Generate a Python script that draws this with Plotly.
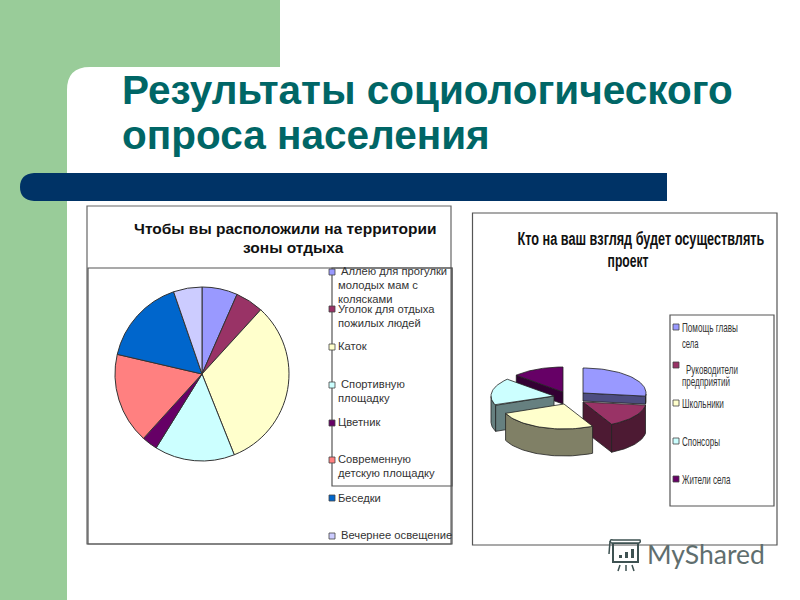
import math
import json
import plotly.graph_objects as go

left_labels = ["Аллею для прогулки молодых мам с колясками", "Уголок для отдыха пожилых людей", "Каток",
               "Спортивную площадку", "Цветник", "Современную детскую площадку", "Беседки", "Вечернее освещение"]
left_values = [6.6, 5.2, 32.2, 14.9, 2.9, 16.9, 16.1, 5.3]
left_colors = ["#9999FF", "#993366", "#FFFFCC", "#CCFFFF", "#660066", "#FF8080", "#0066CC", "#CCCCFF"]

right_labels = ["Помощь главы села", "Руководители предприятий", "Школьники", "Спонсоры", "Жители села"]
right_values = [27.0, 15.5, 26.4, 17.8, 13.3]
right_colors = ["#9999FF", "#993366", "#FFFFCC", "#CCFFFF", "#660066"]
right_side_colors = ["#4D4D80", "#4D1A33", "#808066", "#668080", "#330033"]
right_heights = [8, 28, 27, 26, 12]
right_apex = [(583, 393), (583, 402), (564, 404), (554, 396), (563, 392)]

RX, RY = 63, 25
fig = go.Figure()


def X(v): return v / 800
def Y(v): return 1 - v / 600


shapes = []
def rect(x0, y0, x1, y1, fill=None, line=None, w=1):
    shapes.append(dict(type="rect", xref="x", yref="y", x0=x0, y0=y0, x1=x1, y1=y1,
                       fillcolor=fill or "rgba(0,0,0,0)", line=dict(color=line or "rgba(0,0,0,0)", width=w if line else 0), layer="below"))
def path(d, fill=None, line=None, w=1, layer="below"):
    shapes.append(dict(type="path", xref="x", yref="y", path=d, fillcolor=fill or "rgba(0,0,0,0)",
                       line=dict(color=line or "rgba(0,0,0,0)", width=w if line else 0), layer=layer))

GREEN = "#99CC99"
rect(0, 0, 280, 67, GREEN)
rect(0, 0, 67, 600, GREEN)
path("M67,67 L90,67 Q67,67 67,90 Z", GREEN)
path("M34,173 L667,173 L667,201 L55,201 L34,201 Q20,200 20,187 Q20,174 34,173 Z", "#003366")

rect(87, 206, 451, 544, "#FFFFFF", "#666666", 1.2)
rect(88, 268, 452, 544, None, "#555555", 1.2)
rect(332, 268, 452, 486, None, "#555555", 1.2)
rect(472.5, 213, 777, 545, "#FFFFFF", "#555555", 1.2)
rect(670, 315, 774, 506, None, "#555555", 1.2)


def text(x, y, s, size, color="#222222", family="Liberation Sans", bold=False, anchor="left"):
    fig.add_annotation(xref="x", yref="y", x=x - 2 if anchor == "left" else x, y=y,
                       text=f"<b>{s}</b>" if bold else s, showarrow=False,
                       xanchor=anchor, yanchor="middle", align=anchor,
                       font=dict(size=size, color=color, family=family))


fig.add_trace(go.Pie(labels=left_labels, values=left_values, sort=False, direction="clockwise", rotation=0,
                     marker=dict(colors=left_colors, line=dict(color="#333333", width=1)),
                     textinfo="none", hoverinfo="label+percent", showlegend=False,
                     domain=dict(x=[X(115), X(289)], y=[Y(461), Y(287)])))

text(122, 90, "Результаты социологического", 40.5, "#006666", bold=True)
text(122, 135, "опроса населения", 40.5, "#006666", bold=True)

text(285.5, 228, "Чтобы вы расположили на территории", 15.5, "#111111", bold=True, anchor="center")
text(293, 247, "зоны отдыха", 15.5, "#111111", bold=True, anchor="center")

left_lines = [(341, 271, "Аллею для прогулки"), (338, 285, "молодых мам с"), (338, 299, "колясками"),
              (338, 309, "Уголок для отдыха"), (338, 323, "пожилых людей"), (338, 346, "Каток"),
              (341, 384, "Спортивную"), (338, 398, "площадку"), (338, 422, "Цветник"),
              (338, 459, "Современную"), (338, 473, "детскую площадку"), (338, 498, "Беседки"),
              (341, 535, "Вечернее освещение")]
for x, y, s in left_lines:
    text(x, y, s, 11.2, "#333333")
for c, y in zip(left_colors, [272, 309, 347, 385, 423, 460, 498, 536]):
    rect(329, y - 3, 335, y + 3, c, "#444444", 0.8)

text(640.5, 238, "Кто на ваш взгляд будет осуществлять", 19, "#111111", bold=True, anchor="center")
text(627.5, 260, "проект", 19, "#111111", bold=True, anchor="center")

right_lines = [(682, 327, "Помощь главы"), (682, 343, "села"), (686, 369, "Руководители"), (682, 381, "предприятий"),
               (682, 403, "Школьники"), (682, 441, "Спонсоры"), (682, 479, "Жители села")]
for x, y, s in right_lines:
    text(x, y, s, 13, "#333333")
for c, y in zip(right_colors, [327, 365, 403, 441, 479]):
    rect(673, y - 3, 679, y + 3, c, "#444444", 0.8)

# 3D pie computed from the values
total = sum(right_values)
angles = [0]
for v in right_values:
    angles.append(angles[-1] + v / total * 360)


def pt(cx, cy, a):
    r = math.radians(a)
    return cx + RX * math.sin(r), cy - RY * math.cos(r)


def poly(xs, ys, fill):
    fig.add_trace(go.Scatter(x=xs + xs[:1], y=ys + ys[:1], mode="lines", fill="toself", fillcolor=fill,
                             line=dict(color="#222222", width=0.8), hoverinfo="skip", showlegend=False))


order = [4, 3, 1, 0, 2]
for i in order:
    cx, cy = right_apex[i]
    h = right_heights[i]
    a0, a1 = angles[i], angles[i + 1]
    n = 40
    arc = [pt(cx, cy, a0 + (a1 - a0) * k / n) for k in range(n + 1)]
    for a, sign in ((a0, -1), (a1, 1)):
        if sign * math.sin(math.radians(a)) > 0.02:
            px, py = pt(cx, cy, a)
            poly([cx, px, px, cx], [cy, py, py + h, cy + h], right_side_colors[i])
    front = [p for k, p in enumerate(arc) if 90 <= (a0 + (a1 - a0) * k / n) <= 270]
    if front:
        poly([p[0] for p in front] + [p[0] for p in reversed(front)],
             [p[1] for p in front] + [p[1] + h for p in reversed(front)], right_side_colors[i])
    poly([cx] + [p[0] for p in arc], [cy] + [p[1] for p in arc], right_colors[i])

# watermark
text(647, 554, "MyShared", 26.5, "#5F6E6E", family="Lato")
WM = "#3E5252"
rect(613, 543, 638, 562, None, WM, 2)
path("M611,543 Q609,539 613,540 L640,540 Q641,542 639,543 Z", "#FFFFFF", WM, 1.5)
path("M610,541 L609,554", None, WM, 1.5)
rect(619, 555, 622, 558, WM)
rect(625, 552, 628, 558, WM)
rect(631, 549, 634, 558, WM)
path("M620,565 L618,571 M626,565 L626,571 M632,565 L634,571", None, WM, 1.5)

fig.update_layout(width=800, height=600, margin=dict(l=0, r=0, t=0, b=0), paper_bgcolor="white", plot_bgcolor="rgba(0,0,0,0)",
                  xaxis=dict(range=[0, 800], visible=False, fixedrange=True),
                  yaxis=dict(range=[600, 0], visible=False, fixedrange=True),
                  shapes=shapes, showlegend=False)

# the right chart's text is horizontally squeezed in the reference: narrow it to these widths
squeeze_widths = {"Кто на ваш взгляд будет осуществлять": 247, "проект": 41, "Помощь главы": 56, "села": 17,
                  "Руководители": 52, "предприятий": 48, "Школьники": 42, "Спонсоры": 38, "Жители села": 49}
squeeze_center = ["Кто на ваш взгляд будет осуществлять", "проект"]
post = """
document.body.style.margin='0';
var W=%s, C=%s;
document.querySelectorAll('.annotation-text').forEach(function(t){
  var s=t.textContent;
  if(W[s]){
    var b=t.getBBox();
    var k=W[s]/b.width;
    var o=C.indexOf(s)>=0 ? b.x+b.width/2 : b.x;
    t.setAttribute('transform','translate('+o+',0) scale('+k+',1) translate('+(-o)+',0)');
  }
});
""" % (json.dumps(squeeze_widths, ensure_ascii=False), json.dumps(squeeze_center, ensure_ascii=False))
fig.write_html("out.html", post_script=post, config=dict(displayModeBar=False))
